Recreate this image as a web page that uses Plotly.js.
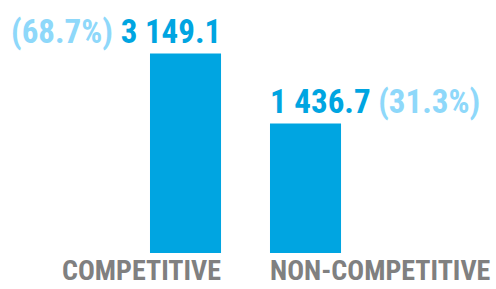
<!DOCTYPE html>
<html><head><meta charset="utf-8">
<script src="https://cdn.plot.ly/plotly-3.0.1.min.js"></script>
<style>html,body{margin:0;padding:0;background:#fff}#chart{width:496px;height:289px}</style>
</head><body><div id="chart"></div>
<script>
const categories = ["COMPETITIVE", "NON-COMPETITIVE"];
const values = [3149.1, 1436.7];
const shares = [68.7, 31.3];

const BAR_COLOR = "#00A5E1";
const PCT_COLOR = "#8ED8FA";
const LABEL_COLOR = "#808080";
const AXIS_FLOOR = -1729;
const BAR_W = 0.592;
const FONT = "Roboto Condensed, Open Sans Condensed, sans-serif";

function fmt(v) {
  const parts = v.toFixed(1).split(".");
  parts[0] = parts[0].replace(/\B(?=(\d{3})+(?!\d))/g, " ");
  return parts.join(".");
}
function pct(p) { return "(" + p.toFixed(1) + "%)"; }

const idx = categories.map((c, i) => i);

const trace = {
  type: "bar",
  x: idx,
  y: values.map(v => v - AXIS_FLOOR),
  base: AXIS_FLOOR,
  width: BAR_W,
  marker: {color: BAR_COLOR},
  hoverinfo: "skip"
};

const annotations = [];
idx.forEach(i => {
  const left = i === 0;
  const pctSpan = '<span style="color:' + PCT_COLOR + '">' + pct(shares[i]) + '</span>';
  annotations.push({
    x: left ? i + BAR_W / 2 : i - BAR_W / 2,
    y: values[i],
    xref: "x", yref: "y",
    xanchor: left ? "right" : "left",
    yanchor: "bottom",
    showarrow: false,
    text: left ? pctSpan + " " + fmt(values[i]) : fmt(values[i]) + " " + pctSpan,
    font: {family: FONT, size: 33, color: BAR_COLOR, weight: "bold"},
    xshift: left ? 2 : -2,
    yshift: 1
  });
  annotations.push({
    x: left ? i + BAR_W / 2 : i - BAR_W / 2,
    y: 0, xref: "x", yref: "paper",
    xanchor: left ? "right" : "left",
    yanchor: "bottom",
    showarrow: false,
    text: categories[i],
    font: {family: FONT, size: 28, color: LABEL_COLOR, weight: "bold"},
    xshift: left ? 2 : -2,
    yshift: -36
  });
});

const layout = {
  width: 496, height: 289,
  margin: {l: 0, r: 0, t: 0, b: 36, pad: 0},
  paper_bgcolor: "#fff", plot_bgcolor: "#fff",
  showlegend: false,
  xaxis: {range: [-1.546, 2.5875], showgrid: false, zeroline: false, showticklabels: false, showline: false, ticks: ""},
  yaxis: {range: [AXIS_FLOOR, 4460], showgrid: false, zeroline: false, showticklabels: false, showline: false, ticks: ""},
  annotations: annotations
};

Plotly.newPlot("chart", [trace], layout, {staticPlot: true, displayModeBar: false});
</script></body></html>
